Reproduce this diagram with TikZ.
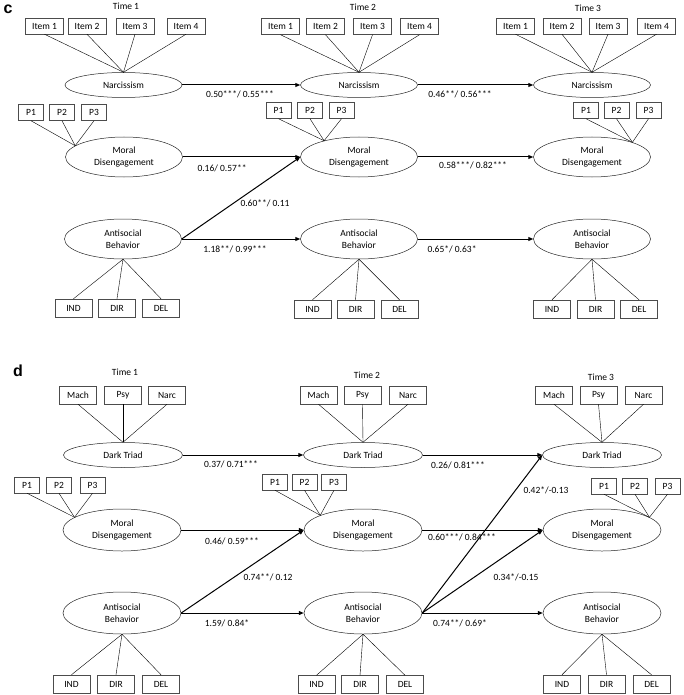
\documentclass[tikz,border=0pt]{standalone}
\usepackage{fontspec}
\setmainfont{Carlito}
\newfontfamily\panelfont{Liberation Sans}
\usetikzlibrary{shapes.geometric,arrows.meta}

\begin{document}
\begin{tikzpicture}[x=1pt,y=-1pt,
		font=\fontsize{9.5}{11.5}\selectfont,
		latent/.style={draw=black!85,line width=0.5pt,ellipse,minimum width=117pt,minimum height=40pt,inner sep=0pt,align=center},
		latsm/.style={latent,minimum height=25pt},
		ind/.style={draw=black!70,line width=0.5pt,inner sep=0pt},
		item/.style={ind,minimum width=38pt,minimum height=16pt},
		pbox/.style={ind,minimum width=25pt,minimum height=16pt},
		obs/.style={ind,minimum width=37pt,minimum height=18pt},
		effect/.style={line width=1pt,-{Triangle[length=5pt,width=4pt]}},
		loadline/.style={line width=0.4pt},
		panel/.style={font=\panelfont\bfseries\fontsize{16}{16}\selectfont,inner sep=1pt}]
		\useasboundingbox (0,0) rectangle (683,695);
		
		% panel c
		\node[panel] (clab) at (8,9) {c};
		\node (ct1) at (126,6) {Time 1};
		\node (ct2) at (363,7) {Time 2};
		\node (ct3) at (588,8) {Time 3};
		
		\node[item] (c1i1) at (44.5,26) {Item 1};
		\node[item] (c1i2) at (87,26) {Item 2};
		\node[item] (c1i3) at (135,26) {Item 3};
		\node[item] (c1i4) at (186,26) {Item 4};
		\node[item] (c2i1) at (280.5,26.5) {Item 1};
		\node[item] (c2i2) at (325.5,26.5) {Item 2};
		\node[item] (c2i3) at (372.5,26.5) {Item 3};
		\node[item] (c2i4) at (419.5,26.5) {Item 4};
		\node[item] (c3i1) at (515.5,26) {Item 1};
		\node[item] (c3i2) at (562,26) {Item 2};
		\node[item] (c3i3) at (608,26) {Item 3};
		\node[item] (c3i4) at (656.5,26) {Item 4};
		
		\node[latsm] (cn1) at (123.5,85) {Narcissism};
		\node[latsm] (cn2) at (359,85) {Narcissism};
		\node[latsm] (cn3) at (592,85) {Narcissism};
		
		\node[pbox] (c1p1) at (31,112.5) {P1};
		\node[pbox] (c1p2) at (62,112.5) {P2};
		\node[pbox] (c1p3) at (94,112.5) {P3};
		\node[pbox] (c2p1) at (278.5,110.5) {P1};
		\node[pbox] (c2p2) at (310,110.5) {P2};
		\node[pbox] (c2p3) at (341.5,110.5) {P3};
		\node[pbox] (c3p1) at (586,110.5) {P1};
		\node[pbox] (c3p2) at (616.5,110.5) {P2};
		\node[pbox] (c3p3) at (648.5,110.5) {P3};
		
		\node[latent] (cm1) at (124,157) {Moral\\Disengagement};
		\node[latent] (cm2) at (359,157) {Moral\\Disengagement};
		\node[latent] (cm3) at (592,157) {Moral\\Disengagement};
		
		\node[latent] (ca1) at (123,239) {Antisocial\\Behavior};
		\node[latent] (ca2) at (359,239) {Antisocial\\Behavior};
		\node[latent] (ca3) at (592,239) {Antisocial\\Behavior};
		
		\node[obs] (c1ind) at (73.5,308) {IND};
		\node[obs] (c1dir) at (117,308) {DIR};
		\node[obs] (c1del) at (161,308) {DEL};
		\node[obs] (c2ind) at (312.5,309) {IND};
		\node[obs] (c2dir) at (355.5,309) {DIR};
		\node[obs] (c2del) at (399.5,309) {DEL};
		\node[obs] (c3ind) at (552,309) {IND};
		\node[obs] (c3dir) at (595.5,309) {DIR};
		\node[obs] (c3del) at (639,309) {DEL};
		
		% loadings c
		\foreach \t in {1,2,3}{
			\foreach \i in {1,2,3,4}
			\draw[loadline] (c\t i\i.south) -- (cn\t.north);
			\draw[loadline] (c\t ind.north) -- (ca\t.south);
			\draw[loadline] (c\t dir.north) -- (ca\t.south);
			\draw[loadline] (c\t del.north) -- (ca\t.south);
		}
		\foreach \p in {1,2,3}{
			\draw[loadline] (c1p\p.south) -- (cm1.167);
			\draw[loadline] (c2p\p.south) -- (cm2.155);
			\draw[loadline] (c3p\p.south) -- (cm3.20);
		}
		
		\draw[effect] (cn1.east) -- (cn2.west);
		\draw[effect] (cn2.east) -- (cn3.west);
		\draw[effect] (cm1.east) -- (cm2.west);
		\draw[effect] (cm2.east) -- (cm3.west);
		\draw[effect] (ca1.east) -- (cm2.west);
		\draw[effect] (ca1.east) -- (ca2.west);
		\draw[effect] (ca2.east) -- (ca3.west);
		
		\node (cl1) at (240,94) {0.50***/ 0.55***};
		\node (cl2) at (460,94) {0.46**/ 0.56***};
		\node (cl3) at (222,168) {0.16/ 0.57**};
		\node (cl4) at (473,165) {0.58***/ 0.82***};
		\node (cl5) at (265,203) {0.60**/ 0.11};
		\node (cl6) at (235,249) {1.18**/ 0.99***};
		\node (cl7) at (452,249) {0.65*/ 0.63*};
		
		% panel d
		\node[panel] (dlab) at (18,371) {d};
		\node (dt1) at (125,372) {Time 1};
		\node (dt2) at (367,375) {Time 2};
		\node (dt3) at (601,377) {Time 3};
		
		\node[obs] (d1i1) at (78,395) {Mach};
		\node[obs] (d1i2) at (123,395) {Psy};
		\node[obs] (d1i3) at (167,395) {Narc};
		\node[obs] (d2i1) at (318.5,395) {Mach};
		\node[obs] (d2i2) at (362.5,395) {Psy};
		\node[obs] (d2i3) at (408,395) {Narc};
		\node[obs] (d3i1) at (554,395) {Mach};
		\node[obs] (d3i2) at (598.5,395) {Psy};
		\node[obs] (d3i3) at (643.5,395) {Narc};
		
		\node[latsm,minimum width=119pt] (dd1) at (123,455) {Dark Triad};
		\node[latsm,minimum width=119pt] (dd2) at (363,455) {Dark Triad};
		\node[latsm,minimum width=119pt] (dd3) at (602,455) {Dark Triad};
		
		\node[pbox] (d1p1) at (27,485) {P1};
		\node[pbox] (d1p2) at (59,485) {P2};
		\node[pbox] (d1p3) at (92.5,485) {P3};
		\node[pbox] (d2p1) at (275,482) {P1};
		\node[pbox] (d2p2) at (304.5,482) {P2};
		\node[pbox] (d2p3) at (334,482) {P3};
		\node[pbox] (d3p1) at (604,486) {P1};
		\node[pbox] (d3p2) at (635,486) {P2};
		\node[pbox] (d3p3) at (667.5,486) {P3};
		
		\node[latent,minimum width=118pt,minimum height=42pt] (dm1) at (122,530) {Moral\\Disengagement};
		\node[latent,minimum width=118pt,minimum height=42pt] (dm2) at (363,530) {Moral\\Disengagement};
		\node[latent,minimum width=118pt,minimum height=42pt] (dm3) at (602,530) {Moral\\Disengagement};
		
		\node[latent,minimum width=118pt,minimum height=42pt] (da1) at (122,613) {Antisocial\\Behavior};
		\node[latent,minimum width=118pt,minimum height=42pt] (da2) at (363,613) {Antisocial\\Behavior};
		\node[latent,minimum width=118pt,minimum height=42pt] (da3) at (602,613) {Antisocial\\Behavior};
		
		\node[obs] (d1ind) at (71.5,684) {IND};
		\node[obs] (d1dir) at (116,684) {DIR};
		\node[obs] (d1del) at (161,684) {DEL};
		\node[obs] (d2ind) at (316.5,684.5) {IND};
		\node[obs] (d2dir) at (360,684.5) {DIR};
		\node[obs] (d2del) at (405,684.5) {DEL};
		\node[obs] (d3ind) at (562,684) {IND};
		\node[obs] (d3dir) at (606.5,684) {DIR};
		\node[obs] (d3del) at (651.5,684) {DEL};
		
		% loadings d
		\foreach \t in {1,2,3}{
			\foreach \i in {1,2,3}
			\draw[loadline] (d\t i\i.south) -- (dd\t.north);
			\draw[loadline] (d\t ind.north) -- (da\t.south);
			\draw[loadline] (d\t dir.north) -- (da\t.south);
			\draw[loadline] (d\t del.north) -- (da\t.south);
		}
		\foreach \p in {1,2,3}{
			\draw[loadline] (d1p\p.south) -- (dm1.165);
			\draw[loadline] (d2p\p.south) -- (dm2.161);
			\draw[loadline] (d3p\p.south) -- (dm3.15);
		}
		
		\draw[effect] (dd1.east) -- (dd2.west);
		\draw[effect] (dd2.east) -- (dd3.west);
		\draw[effect] (dm1.east) -- (dm2.west);
		\draw[effect] (dm2.east) -- (dm3.west);
		\draw[effect] (da1.east) -- (dm2.west);
		\draw[effect] (da1.east) -- (da2.west);
		\draw[effect] (da2.east) -- (dd3.west);
		\draw[effect] (da2.east) -- (dm3.west);
		\draw[effect] (da2.east) -- (da3.west);
		
		\node (dl1) at (231,464) {0.37/ 0.71***};
		\node (dl2) at (458,465) {0.26/ 0.81***};
		\node (dl3) at (232,541) {0.46/ 0.59***};
		\node (dl4) at (462,537) {0.60***/ 0.84***};
		\node (dl5) at (268,577) {0.74**/ 0.12};
		\node (dl6) at (227,623) {1.59/ 0.84*};
		\node (dl7) at (546,490) {0.42*/-0.13};
		\node (dl8) at (516,577) {0.34*/-0.15};
		\node (dl9) at (460,623) {0.74**/ 0.69*};
		
		\end{tikzpicture}
\end{document}
